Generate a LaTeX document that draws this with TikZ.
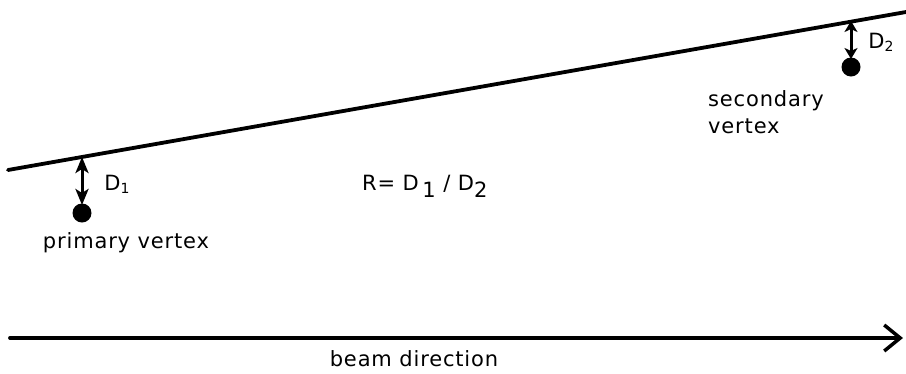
\documentclass[tikz,border=0pt]{standalone}
\usepackage{fontspec}
\setmainfont{DejaVu Sans}[LetterSpace=4]
\usetikzlibrary{arrows.meta}
\newcommand{\lowsub}[1]{\raisebox{-7pt}{\fontsize{21}{23}\selectfont #1}}
\newcommand{\smallsub}[1]{\raisebox{-3pt}{\fontsize{14}{16}\selectfont #1}}
\begin{document}
\begin{tikzpicture}[x=1pt,y=-1pt,
  lbl/.style={font=\fontsize{21}{25}\selectfont, inner sep=0pt},
  track/.style={line width=3.8pt, line cap=round},
  vtx/.style={circle, fill=black, minimum size=19pt, inner sep=0pt},
  dist/.style={line width=3pt, {Stealth[length=16pt,width=13pt,inset=4pt]}-{Stealth[length=16pt,width=13pt,inset=4pt]}},
  beam/.style={line width=3.8pt, line cap=round, -{Straight Barb[length=16pt,width=26pt,line width=3.5pt]}}]
\useasboundingbox (0,0) rectangle (906,373);
\coordinate (tl) at (8,170);
\coordinate (tr) at (906,12);
\draw[track] (tl) -- (tr);
% primary
\node[vtx] (pv) at (82,213) {};
\coordinate (p1) at (82,157);
\draw[dist] (p1) -- (82,205);
\node[lbl] (d1) at (117,184) {D\smallsub{1}};
\node[lbl] (pvl) at (126,243) {primary vertex};
% secondary
\node[vtx] (sv) at (851,67) {};
\coordinate (s1) at (851,21);
\draw[dist, {Stealth[length=11pt,width=13pt,inset=3pt]}-{Stealth[length=11pt,width=13pt,inset=3pt]}] (s1) -- (851,59);
\node[lbl] (d2) at (881,42) {D\smallsub{2}};
\node[lbl, anchor=west] (svl1) at (708,101) {secondary};
\node[lbl, anchor=west] (svl2) at (708,126) {vertex};
% ratio
\node[lbl, anchor=west] (r) at (362,186) {R= D\,\lowsub{1} / D\lowsub{2}};
% beam
\coordinate (b0) at (10,338);
\coordinate (b1) at (903,338);
\draw[beam] (b0) -- (b1);
\node[lbl] (bl) at (414,359) {beam direction};
\end{tikzpicture}
\end{document}
